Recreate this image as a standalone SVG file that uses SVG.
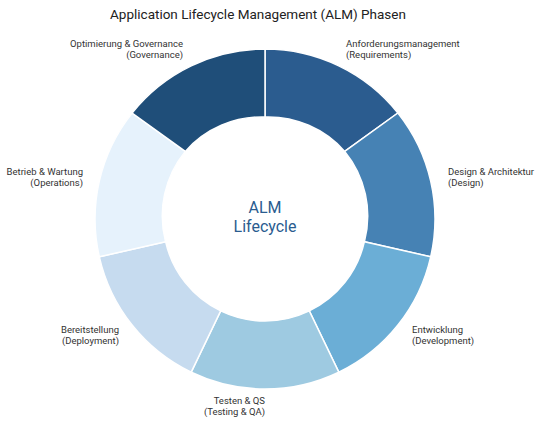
<svg xmlns="http://www.w3.org/2000/svg" width="540" height="422" viewBox="0 0 540 422">
<style>
.seg{stroke:#ffffff;stroke-width:1.5}
.lbl{font-family:Roboto,"Open Sans",sans-serif;font-size:9.5px;fill:#333333}
.title{font-family:Roboto,"Open Sans",sans-serif;font-size:13.5px;fill:#222222}
.center{font-family:Roboto,"Open Sans",sans-serif;font-size:16px;fill:#2a5c8f}
</style>
<rect width="540" height="422" fill="#ffffff"/>
<text class="title" x="258" y="19" text-anchor="middle">Application Lifecycle Management (ALM) Phasen</text>
<g id="segments">
<g id="seg-requirements"><path class="seg" fill="#2b5c8f" d="M265,49 A170,170 0 0 1 397.9,113.0 L344.7,151.4 A102,102 0 0 0 265,117 Z"/></g>
<g id="seg-design"><path class="seg" fill="#4682b4" d="M397.9,113.0 A170,170 0 0 1 430.7,256.8 L364.4,241.7 A102,102 0 0 0 344.7,151.4 Z"/></g>
<g id="seg-development"><path class="seg" fill="#6baed6" d="M430.7,256.8 A170,170 0 0 1 338.8,372.2 L309.3,310.9 A102,102 0 0 0 364.4,241.7 Z"/></g>
<g id="seg-testing"><path class="seg" fill="#9ecae1" d="M338.8,372.2 A170,170 0 0 1 191.2,372.2 L220.7,310.9 A102,102 0 0 0 309.3,310.9 Z"/></g>
<g id="seg-deployment"><path class="seg" fill="#c6dbef" d="M191.2,372.2 A170,170 0 0 1 99.3,256.8 L165.6,241.7 A102,102 0 0 0 220.7,310.9 Z"/></g>
<g id="seg-operations"><path class="seg" fill="#e6f2fc" d="M99.3,256.8 A170,170 0 0 1 132.1,113.0 L185.3,151.4 A102,102 0 0 0 165.6,241.7 Z"/></g>
<g id="seg-governance"><path class="seg" fill="#1f4e79" d="M132.1,113.0 A170,170 0 0 1 265,49 L265,117 A102,102 0 0 0 185.3,151.4 Z"/></g>
</g>
<g id="center-label">
<text class="center" x="265" y="213" text-anchor="middle">ALM</text>
<text class="center" x="265" y="232" text-anchor="middle">Lifecycle</text>
</g>
<g id="labels">
<g id="lbl-requirements"><text class="lbl" x="346" y="46.5">Anforderungsmanagement</text><text class="lbl" x="346" y="58">(Requirements)</text></g>
<g id="lbl-design"><text class="lbl" x="448" y="174.5">Design &amp; Architektur</text><text class="lbl" x="448" y="186">(Design)</text></g>
<g id="lbl-development"><text class="lbl" x="412" y="332.5">Entwicklung</text><text class="lbl" x="412" y="344">(Development)</text></g>
<g id="lbl-testing"><text class="lbl" x="265" y="403.5" text-anchor="end">Testen &amp; QS</text><text class="lbl" x="265" y="415" text-anchor="end">(Testing &amp; QA)</text></g>
<g id="lbl-deployment"><text class="lbl" x="119" y="332.5" text-anchor="end">Bereitstellung</text><text class="lbl" x="119" y="344" text-anchor="end">(Deployment)</text></g>
<g id="lbl-operations"><text class="lbl" x="83" y="174.5" text-anchor="end">Betrieb &amp; Wartung</text><text class="lbl" x="83" y="186" text-anchor="end">(Operations)</text></g>
<g id="lbl-governance"><text class="lbl" x="183" y="46.5" text-anchor="end">Optimierung &amp; Governance</text><text class="lbl" x="183" y="58" text-anchor="end">(Governance)</text></g>
</g>
</svg>
